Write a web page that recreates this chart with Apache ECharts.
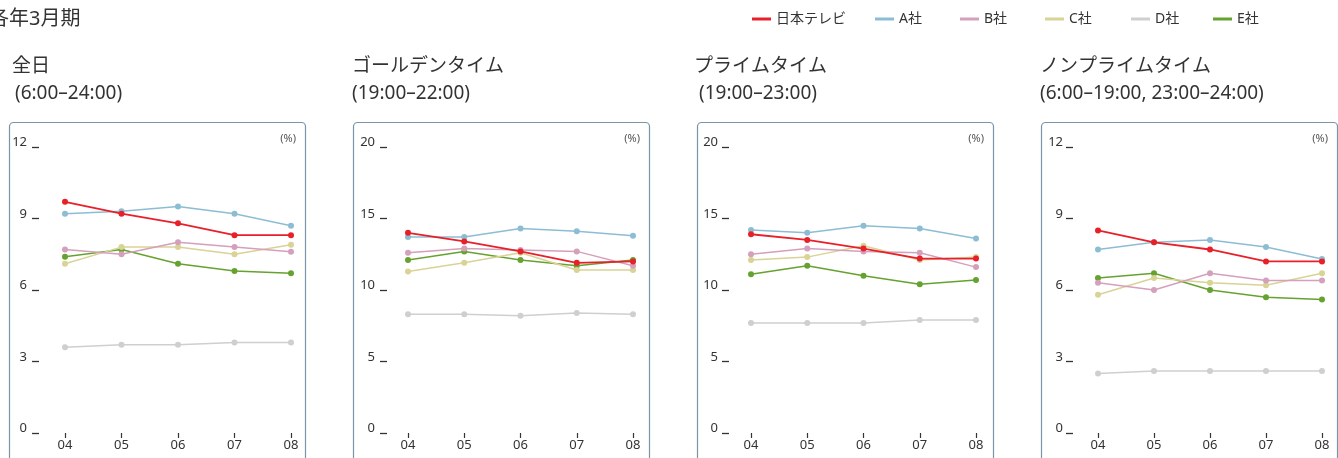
<!DOCTYPE html>
<html>
<head>
<meta charset="utf-8">
<script src="https://cdn.jsdelivr.net/npm/echarts@6/dist/echarts.min.js"></script>
<style>
html,body{margin:0;padding:0;background:#fff;}
#chart{width:1338px;height:458px;}
</style>
</head>
<body>
<div id="chart"></div>
<script>
// ---- data ----
const years = ['04', '05', '06', '07', '08'];
const companies = ['日本テレビ', 'A社', 'B社', 'C社', 'D社', 'E社'];
const mainTitle = '各年3月期';
const panelTitles = ['全日', 'ゴールデンタイム', 'プライムタイム', 'ノンプライムタイム'];
const panelRanges = [' (6:00–24:00)', '(19:00–22:00)', ' (19:00–23:00)', '(6:00–19:00, 23:00–24:00)'];
const yMaxes = [12, 20, 20, 12];
const yIntervals = [3, 5, 5, 3];
const unitLabel = '(%)';

// rows: 日本テレビ, A社, B社, C社, D社, E社
const allDay = [
  [9.7, 9.2, 8.8, 8.3, 8.3],
  [9.2, 9.3, 9.5, 9.2, 8.7],
  [7.7, 7.5, 8.0, 7.8, 7.6],
  [7.1, 7.8, 7.8, 7.5, 7.9],
  [3.6, 3.7, 3.7, 3.8, 3.8],
  [7.4, 7.7, 7.1, 6.8, 6.7]
];
const golden = [
  [14.0, 13.4, 12.7, 11.9, 12.0],
  [13.7, 13.7, 14.3, 14.1, 13.8],
  [12.6, 12.9, 12.8, 12.7, 11.7],
  [11.3, 11.9, 12.6, 11.4, 11.4],
  [8.3, 8.3, 8.2, 8.4, 8.3],
  [12.1, 12.7, 12.1, 11.7, 12.1]
];
const prime = [
  [13.9, 13.5, 12.9, 12.2, 12.2],
  [14.2, 14.0, 14.5, 14.3, 13.6],
  [12.5, 12.9, 12.7, 12.6, 11.6],
  [12.1, 12.3, 13.1, 12.1, 12.3],
  [7.7, 7.7, 7.7, 7.9, 7.9],
  [11.1, 11.7, 11.0, 10.4, 10.7]
];
const nonPrime = [
  [8.5, 8.0, 7.7, 7.2, 7.2],
  [7.7, 8.0, 8.1, 7.8, 7.3],
  [6.3, 6.0, 6.7, 6.4, 6.4],
  [5.8, 6.5, 6.3, 6.2, 6.7],
  [2.5, 2.6, 2.6, 2.6, 2.6],
  [6.5, 6.7, 6.0, 5.7, 5.6]
];
const panels = [allDay, golden, prime, nonPrime];

// ---- styles / layout ----
const colors = ['#e8202a', '#8dbdd3', '#d4a0bb', '#d9d395', '#cfcfcf', '#66a22f'];
const FONT = '"Noto Sans", "Noto Sans CJK JP", sans-serif';
const TXT = '#333';
const boxLeft = [9, 353, 697, 1041];
const boxW = 296;
const titleLeft = [12, 352, 694, 1040];
const rangeLeft = [10, 352, 694, 1040];
const gridLeft = [65, 408, 751, 1098];
const gridRight = [291, 633, 976, 1322];
const yOffset = [26, 21, 22, 25];
const yMargin = [12, 12, 11, 10];
const legendLeft = [752, 875, 960, 1045, 1131, 1213];

const chart = echarts.init(document.getElementById('chart'));

const grids = [], xAxes = [], yAxes = [], series = [], graphics = [];

graphics.push({
  type: 'text', left: -11, top: 9,
  style: { text: mainTitle, font: '20px ' + FONT, fill: TXT }
});

panels.forEach((p, i) => {
  grids.push({ left: gridLeft[i], width: gridRight[i] - gridLeft[i], top: 147, height: 286 });
  xAxes.push({
    type: 'category', gridIndex: i, data: years, boundaryGap: false,
    axisLine: { show: false },
    axisTick: { show: true, length: 5, lineStyle: { color: TXT, width: 1.2 } },
    axisLabel: { color: TXT, fontSize: 13, fontFamily: FONT, margin: 6 },
    splitLine: { show: false }
  });
  yAxes.push({
    type: 'value', gridIndex: i, min: 0, max: yMaxes[i], interval: yIntervals[i],
    offset: yOffset[i],
    axisLine: { show: false },
    axisTick: { show: true, length: 7, lineStyle: { color: TXT, width: 1.3 } },
    axisLabel: { color: TXT, fontSize: 13, fontFamily: FONT, margin: yMargin[i], verticalAlign: 'bottom', lineHeight: 13, padding: [0, 0, -2, 0] },
    splitLine: { show: false }
  });
  // draw order: D, E, C, B, A, 日本テレビ (red on top)
  [4, 5, 3, 2, 1, 0].forEach(k => {
    series.push({
      type: 'line', name: companies[k], xAxisIndex: i, yAxisIndex: i,
      data: p[k], symbol: 'circle', symbolSize: 6, showSymbol: true,
      lineStyle: { color: colors[k], width: k === 0 ? 1.8 : 1.5 },
      itemStyle: { color: colors[k] },
      z: 2 + (5 - k)
    });
  });
  // panel box
  graphics.push({
    type: 'rect',
    shape: { x: boxLeft[i] + 0.5, y: 122.5, width: boxW, height: 400, r: 4 },
    style: { fill: null, stroke: '#7896a6', lineWidth: 1.2 },
    silent: true
  });
  graphics.push({
    type: 'text', left: titleLeft[i], top: 57,
    style: { text: panelTitles[i], font: '19px ' + FONT, fill: TXT }
  });
  graphics.push({
    type: 'text', left: rangeLeft[i], top: 84,
    style: { text: panelRanges[i], font: '19px ' + FONT, fill: TXT }
  });
  graphics.push({
    type: 'text', right: 1338 - (boxLeft[i] + boxW) + 9, top: 133,
    style: { text: unitLabel, font: '11px ' + FONT, fill: '#555' }
  });
});

const legends = companies.map((c, k) => ({
  data: [{ name: c, icon: 'rect', itemStyle: { color: colors[k] } }],
  left: legendLeft[k], top: 12, padding: 0, itemWidth: 19, itemHeight: 3,
  textStyle: { color: TXT, fontSize: 14, fontFamily: FONT }
}));

chart.setOption({
  animation: false,
  color: colors,
  textStyle: { fontFamily: FONT },
  legend: legends,
  grid: grids,
  xAxis: xAxes,
  yAxis: yAxes,
  series: series,
  graphic: graphics
});
</script>
</body>
</html>
